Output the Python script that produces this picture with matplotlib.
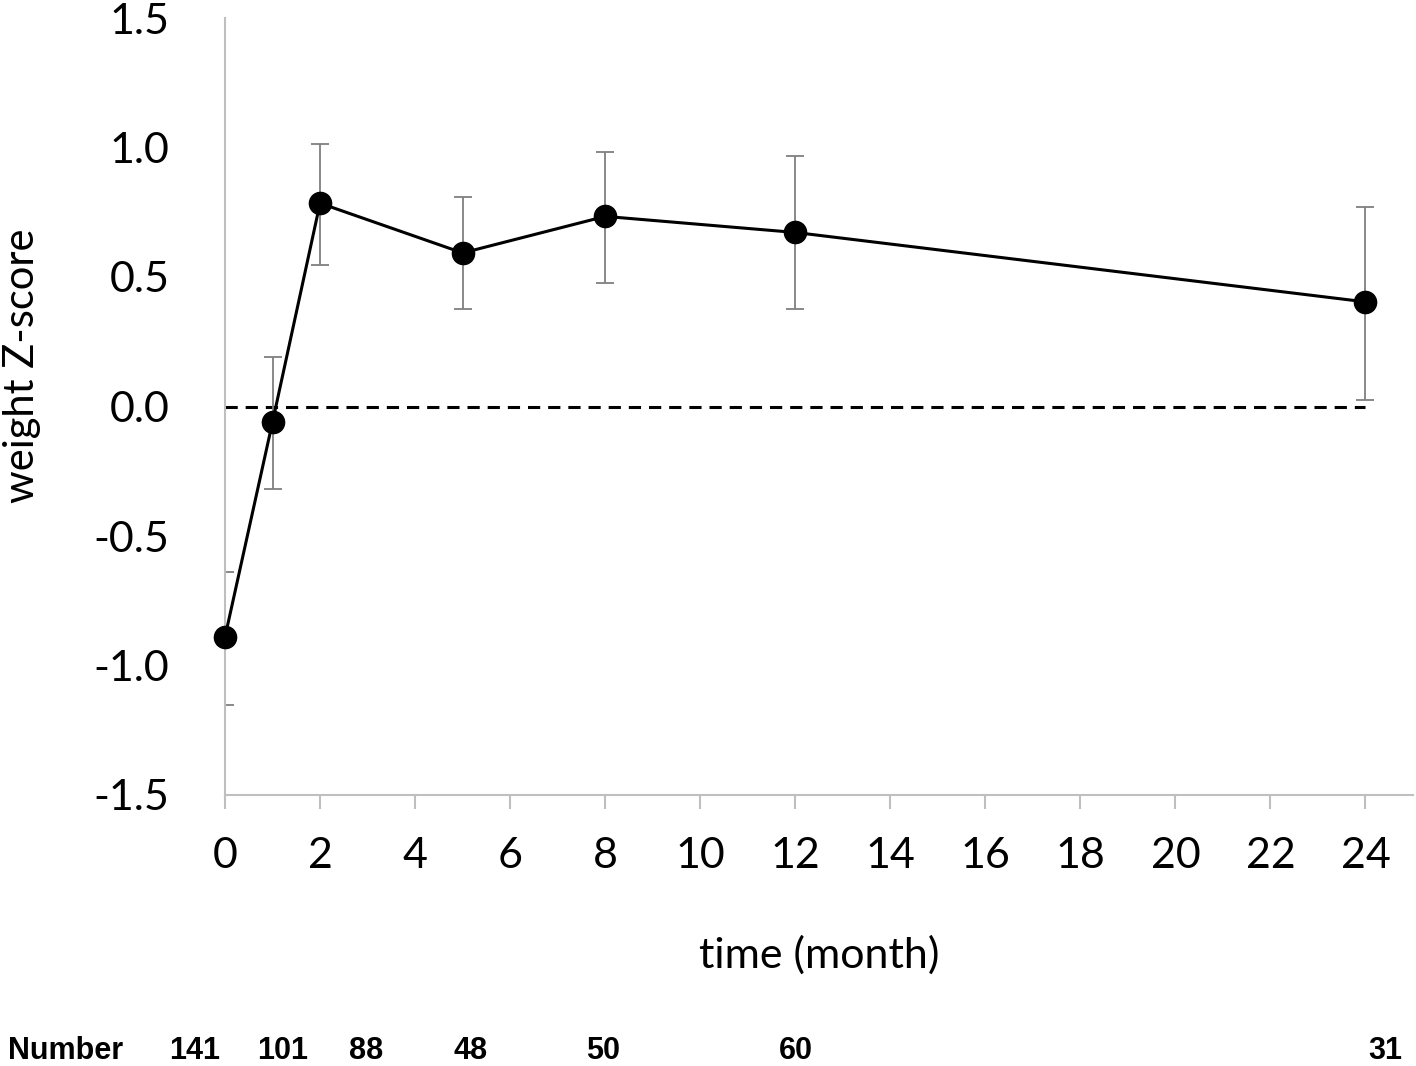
import matplotlib
matplotlib.use("Agg")
import matplotlib.pyplot as plt

# Data
months = [0, 1, 2, 5, 8, 12, 24]
zscore = [-0.89, -0.06, 0.785, 0.593, 0.734, 0.672, 0.404]
err_upper = [-0.638, 0.19, 1.014, 0.81, 0.984, 0.966, 0.770]
err_lower = [-1.152, -0.317, 0.547, 0.376, 0.476, 0.375, 0.026]
number_labels = ["141", "101", "88", "48", "50", "60", "31"]
number_px = [195, 283, 366, 471, 603, 796, 1385]
xticks = list(range(0, 25, 2))
yticks = [-1.5, -1.0, -0.5, 0.0, 0.5, 1.0, 1.5]

W, H = 1416, 1066
fig = plt.figure(figsize=(W / 100, H / 100), dpi=100)
ax = fig.add_axes([225 / W, 1 - 795 / H, (1413 - 225) / W, (795 - 18) / H])

font = "Lato"
grey = "#bfbfbf"

yerr = [[z - lo for z, lo in zip(zscore, err_lower)],
        [up - z for z, up in zip(zscore, err_upper)]]

ax.errorbar(months, zscore, yerr=yerr, fmt="none", ecolor="#7f7f7f",
            elinewidth=1.3, capsize=6.5, capthick=1.3, zorder=2)
ax.plot([0, 24], [0, 0], color="black", lw=2.2, ls=(0, (4, 2.6)), zorder=1)
ax.plot(months, zscore, color="black", lw=2.2, marker="o", markersize=16,
        markerfacecolor="black", zorder=3, clip_on=False)

ax.set_xlim(0, 25)
ax.set_ylim(-1.5, 1.5)
ax.set_xticks(xticks)
ax.set_xticklabels([str(t) for t in xticks], fontsize=31, fontname=font)
ax.set_yticks(yticks)
ax.set_yticklabels([f"{t:.1f}" for t in yticks], fontsize=31, fontname=font)

for s in ["top", "right"]:
    ax.spines[s].set_visible(False)
for s in ["left", "bottom"]:
    ax.spines[s].set_color(grey)
    ax.spines[s].set_linewidth(1.5)

ax.tick_params(axis="x", direction="out", length=10, width=1.5, color=grey,
               pad=20, labelcolor="black")
ax.tick_params(axis="y", length=0, pad=40, labelcolor="black")

ax.set_xlabel("time (month)", fontsize=31, fontname=font, labelpad=44)
ax.set_ylabel("weight Z-score", fontsize=30, fontname=font)
ax.yaxis.set_label_coords(-0.155, 0.553)

fig.text(8 / W, 1 - 1051 / H, "Number", fontsize=22, fontweight="bold",
         family="Liberation Sans", ha="left", va="center")
for lab, px in zip(number_labels, number_px):
    fig.text(px / W, 1 - 1051 / H, lab, fontsize=22, fontweight="bold",
             family="Liberation Sans", ha="center", va="center")

fig.savefig("out.png", dpi=100, facecolor="white")
